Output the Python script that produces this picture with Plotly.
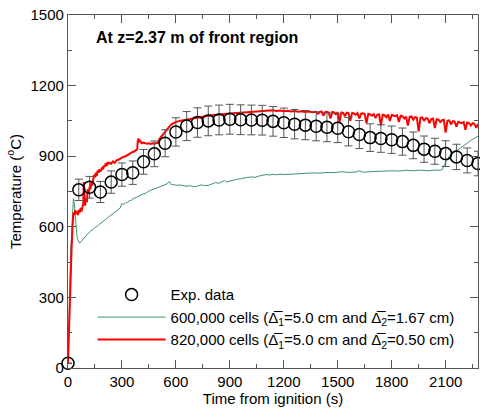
import plotly.graph_objects as go

# ---------------- data ----------------
exp_time = [0, 60, 120, 180, 240, 300, 360, 420, 480, 540, 600, 660, 720, 780, 840, 900, 960, 1020,
            1080, 1140, 1200, 1260, 1320, 1380, 1440, 1500, 1560, 1620, 1680, 1740, 1800, 1860,
            1920, 1980, 2040, 2100, 2160, 2220, 2280]
exp_temp = [20, 757, 768, 748, 790, 822, 830, 876, 910, 955, 1003, 1028, 1043, 1050, 1054, 1057, 1055, 1054,
            1053, 1048, 1042, 1036, 1032, 1027, 1023, 1019, 1004, 992, 979, 975, 970, 962,
            946, 930, 921, 911, 897, 882, 869]
exp_err_pct = 6

g_time = [0, 5, 10, 15, 20, 25, 30, 35, 40, 45, 50, 55, 60, 65, 70, 80, 90, 100, 110, 120, 130, 140,
          150, 160, 170, 180, 190, 200, 210, 220, 230, 240, 250, 260, 270, 280, 290, 300, 310, 320,
          330, 340, 350, 360, 370, 380, 390, 400, 410, 420, 430, 440, 450, 460, 470, 480, 490, 500,
          510, 520, 530, 540, 550, 560, 565, 570, 580, 590, 600, 620, 640, 660, 680, 700, 720, 740,
          760, 780, 800, 820, 840, 860, 870, 880, 900, 920, 940, 960, 980, 1000, 1020, 1040, 1060,
          1080, 1100, 1120, 1140, 1160, 1180, 1200, 1240, 1280, 1320, 1360, 1400, 1440, 1480, 1520,
          1560, 1600, 1620, 1640, 1680, 1720, 1760, 1800, 1840, 1880, 1920, 1960, 2000, 2040, 2070,
          2080, 2090, 2100, 2110, 2120, 2140, 2160, 2180, 2200, 2220, 2240, 2260, 2280]
g_temp = [20, 200, 380, 500, 560, 680, 720, 700, 640, 590, 560, 545, 535, 530, 535, 545, 555, 562, 570,
          578, 583, 590, 597, 600, 608, 614, 618, 626, 630, 640, 645, 650, 655, 662, 668, 672, 680,
          700, 694, 702, 704, 710, 712, 718, 722, 726, 728, 733, 737, 740, 742, 748, 752, 755, 758,
          760, 763, 766, 768, 772, 775, 778, 782, 790, 793, 782, 778, 780, 776, 778, 774, 772, 775,
          770, 773, 778, 775, 776, 782, 788, 785, 792, 797, 790, 795, 800, 802, 804, 808, 810, 812,
          810, 815, 818, 822, 820, 823, 821, 824, 822, 824, 826, 827, 829, 828, 831, 830, 834, 831,
          833, 838, 832, 834, 836, 835, 838, 837, 840, 838, 841, 838, 841, 840, 842, 860, 875, 890,
          900, 912, 922, 933, 945, 955, 967, 976, 985]

r_time = [0, 5, 10, 15, 20, 25, 30, 35, 40, 45, 50, 55, 60, 65, 70, 75, 80, 85, 88, 91, 95, 100, 105,
          110, 115, 120, 125, 130, 135, 140, 145, 150, 155, 160, 165, 170, 175, 180, 185, 190, 195,
          200, 205, 210, 215, 220, 225, 230, 240, 250, 260, 270, 280, 290, 300, 310, 320, 330, 340,
          350, 360, 370, 380, 385, 388, 392, 396, 400, 410, 420, 430, 440, 450, 460, 470, 480, 490,
          500, 510, 520, 530, 540, 550, 560, 570, 580, 590, 600, 620, 640, 660, 680, 700, 720, 740,
          760, 780, 800, 820, 840, 860, 880, 900, 920, 940, 960, 980, 1000, 1020, 1040, 1060, 1080,
          1100, 1120, 1140, 1160, 1180, 1200, 1220, 1240, 1260, 1280, 1300, 1320, 1340, 1360,
          1380, 1390, 1400, 1410, 1420, 1430, 1440, 1450, 1460, 1470, 1480, 1490, 1500, 1510, 1520,
          1530, 1540, 1550, 1560, 1570, 1580, 1590, 1600, 1610, 1620, 1630, 1640, 1650, 1660, 1670,
          1680, 1690, 1700, 1710, 1720, 1730, 1740, 1750, 1760, 1770, 1780, 1790, 1800, 1810, 1820,
          1830, 1840, 1850, 1860, 1870, 1880, 1890, 1900, 1910, 1920, 1930, 1940, 1950, 1960, 1970,
          1980, 1990, 2000, 2010, 2020, 2030, 2040, 2050, 2060, 2070, 2080, 2090, 2100, 2110, 2120,
          2130, 2140, 2150, 2160, 2170, 2180, 2190, 2200, 2210, 2220, 2230, 2240, 2250, 2260, 2270,
          2280]
r_temp = [20, 150, 330, 450, 510, 600, 660, 650, 670, 655, 665, 650, 672, 660, 680, 665, 690, 700, 790,
          700, 690, 720, 705, 760, 740, 770, 760, 790, 775, 800, 820, 810, 830, 815, 840, 830, 845,
          835, 840, 850, 845, 860, 855, 870, 858, 875, 866, 872, 868, 878, 872, 882, 885, 890, 893,
          898, 900, 905, 910, 915, 918, 921, 925, 930, 965, 975, 960, 968, 955, 958, 955, 953, 955,
          952, 955, 953, 955, 957, 975, 985, 995, 1005, 1015, 1025, 1032, 1038, 1042, 1045, 1050,
          1053, 1057, 1060, 1063, 1065, 1068, 1070, 1072, 1074, 1076, 1077, 1079, 1080, 1081, 1083,
          1084, 1085, 1086, 1087, 1088, 1089, 1090, 1092, 1091, 1093, 1095, 1092, 1094, 1091, 1093,
          1090, 1092, 1089, 1091, 1088, 1090, 1087,
          1089, 1080, 1088, 1090, 1072, 1087, 1089, 1085, 1060, 1088, 1086, 1078, 1087, 1045, 1086,
          1084, 1070, 1085, 1083, 1050, 1084, 1082, 1076, 1083, 1060, 1081, 1082, 1079, 1040, 1080,
          1078, 1072, 1079, 1062, 1077, 1078, 1030, 1076, 1074, 1065, 1077, 1050, 1075, 1073, 1070,
          1074, 1045, 1072, 1070, 1060, 1068, 1030, 1067, 1069, 1055, 1066, 1064, 1005, 1063, 1065,
          1050, 1062, 1060, 1040, 1058, 1060, 1020, 1057, 1055, 1045, 1053, 1054, 1000, 1050, 1052,
          1035, 1049, 1047, 1025, 1046, 1044, 1040, 1045, 1012, 1043, 1041, 1030, 1040, 1038, 1020,
          1037, 1035, 1010, 1033, 1034, 1025, 1030, 1028, 1015, 1027, 1025, 1022, 1024, 1008, 1022,
          1021]

series_names = ["Exp. data",
                "600,000 cells (\u0394\u0305<sub>1</sub>=5.0 cm and \u0394\u0305<sub>2</sub>=1.67 cm)",
                "820,000 cells (\u0394\u0305<sub>1</sub>=5.0 cm and \u0394\u0305<sub>2</sub>=0.50 cm)"]
title_text = "At z=2.37 m of front region"
x_title = "Time from ignition (s)"
y_title = "Temperature (<sup>o</sup>C)"
x_ticks = [0, 300, 600, 900, 1200, 1500, 1800, 2100]
y_ticks = [0, 300, 600, 900, 1200, 1500]

FONT = "Arial, 'Liberation Sans', sans-serif"

fig = go.Figure()
fig.add_trace(go.Scatter(x=g_time, y=g_temp, mode="lines", name=series_names[1],
                         line=dict(color="#3f9468", width=1), legendrank=2))
fig.add_trace(go.Scatter(x=r_time, y=r_temp, mode="lines", name=series_names[2],
                         line=dict(color="#ff0000", width=2), legendrank=3))
fig.add_trace(go.Scatter(x=exp_time, y=exp_temp, mode="markers", name=series_names[0],
                         marker=dict(symbol="circle-open", size=12, color="black",
                                     line=dict(width=1.5, color="black")),
                         error_y=dict(type="percent", value=exp_err_pct, color="#555555",
                                      thickness=1, width=4),
                         cliponaxis=False, legendrank=1))

axis_common = dict(showline=True, linecolor="#555555", linewidth=1.2, mirror="ticks",
                   ticks="inside", ticklen=8, tickwidth=1, tickcolor="#555555",
                   showgrid=False, zeroline=False, automargin=False,
                   tickfont=dict(family=FONT, size=15, color="black"),
                   title_font=dict(family=FONT, size=15, color="black"))

fig.update_xaxes(range=[0, 2280], tickvals=x_ticks,
                 minor=dict(dtick=150, ticks="inside", ticklen=4, tickcolor="#555555", showgrid=False),
                 title_text=x_title, title_standoff=4, **axis_common)
fig.update_yaxes(range=[0, 1500], tickvals=y_ticks,
                 minor=dict(dtick=150, ticks="inside", ticklen=4, tickcolor="#555555", showgrid=False),
                 title_text=y_title, title_standoff=5, **axis_common)

fig.add_annotation(text="<b>" + title_text + "</b>", xref="paper", yref="paper",
                   x=0.063, y=0.935, xanchor="left", yanchor="middle", showarrow=False,
                   font=dict(family=FONT, size=16, color="black"))

fig.update_layout(
    width=480, height=410,
    margin=dict(l=68, r=2, t=15, b=42, autoexpand=False),
    plot_bgcolor="white", paper_bgcolor="white",
    showlegend=True,
    legend=dict(x=0.06, y=0.254, xanchor="left", yanchor="top",
                bgcolor="rgba(0,0,0,0)", itemwidth=68,
                font=dict(family=FONT, size=15, color="black"),
                traceorder="normal"),
)

fig.write_html("out.html", config={"displayModeBar": False},
               post_script="document.body.style.margin='0px';")
